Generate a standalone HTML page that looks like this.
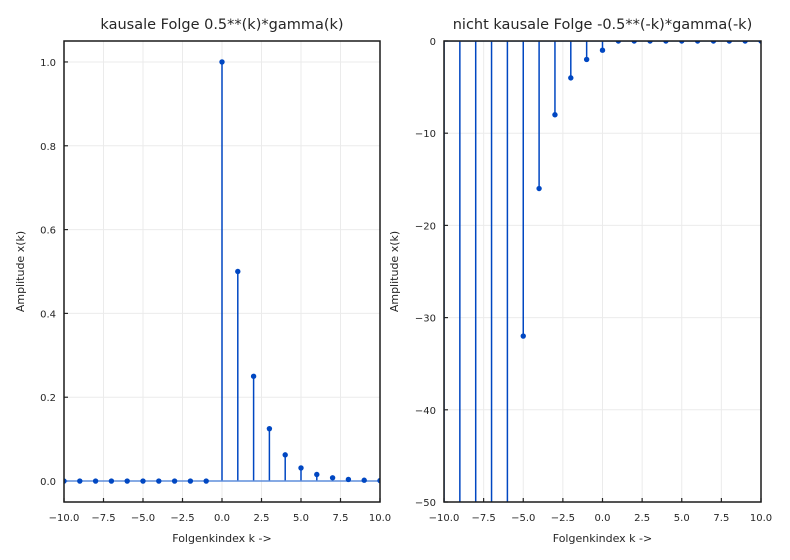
<!DOCTYPE html>
<html><head><meta charset="utf-8"><style>
html,body{margin:0;padding:0;width:790px;height:560px;overflow:hidden;background:#fff;font-family:"DejaVu Sans","Liberation Sans",sans-serif}
svg{display:block}
svg text{fill:#262626}
</style></head><body>
<svg id="s" width="790" height="560" xmlns="http://www.w3.org/2000/svg"></svg>
<script>
const kValues=[-10,-9,-8,-7,-6,-5,-4,-3,-2,-1,0,1,2,3,4,5,6,7,8,9,10];
const causalValues=[0,0,0,0,0,0,0,0,0,0,1,0.5,0.25,0.125,0.0625,0.03125,0.015625,0.0078125,0.00390625,0.001953125,0.0009765625];
const nonCausalValues=[-1024,-512,-256,-128,-64,-32,-16,-8,-4,-2,-1,0,0,0,0,0,0,0,0,0,0];
const xTicks=[-10,-7.5,-5,-2.5,0,2.5,5,7.5,10];
const xTickLabels=["\u221210.0","\u22127.5","\u22125.0","\u22122.5","0.0","2.5","5.0","7.5","10.0"];
const leftYTicks=[0,0.2,0.4,0.6,0.8,1.0];
const leftYTickLabels=["0.0","0.2","0.4","0.6","0.8","1.0"];
const rightYTicks=[-50,-40,-30,-20,-10,0];
const rightYTickLabels=["\u221250","\u221240","\u221230","\u221220","\u221210","0"];
const NS="http://www.w3.org/2000/svg",S=document.getElementById('s');
function mk(t,a,p){const e=document.createElementNS(NS,t);for(const k in a)e.setAttribute(k,a[k]);(p||S).appendChild(e);return e;}
function panel(cfg){
  const g=mk('g',{});
  
  
  const {x0,x1,y0,y1,ymin,ymax}=cfg;
  const X=v=>x0+(v+10)/20*(x1-x0);
  const Y=v=>y1-(v-ymin)/(ymax-ymin)*(y1-y0);
  const clip='c'+cfg.name;
  const cp=mk('clipPath',{id:clip},g);mk('rect',{x:x0,y:y0,width:x1-x0,height:y1-y0},cp);
  xTicks.forEach((t,i)=>{
    const gl=mk('line',{x1:X(t),x2:X(t),y1:y0,y2:y1,stroke:'#ebebeb','stroke-width':1},g);
    
    mk('line',{x1:X(t),x2:X(t),y1:y1,y2:y1-4,stroke:'#262626','stroke-width':1.2},g);
    const tx=mk('text',{x:X(t),y:y1+19,'text-anchor':'middle','font-size':10},g);tx.textContent=xTickLabels[i];
    
  });
  cfg.yt.forEach((t,i)=>{
    const gl=mk('line',{x1:x0,x2:x1,y1:Y(t),y2:Y(t),stroke:'#ebebeb','stroke-width':1},g);
    
    mk('line',{x1:x0,x2:x0+4,y1:Y(t),y2:Y(t),stroke:'#262626','stroke-width':1.2},g);
    const tx=mk('text',{x:x0-8,y:Y(t)+4,'text-anchor':'end','font-size':10},g);tx.textContent=cfg.ytl[i];
    
  });
  const inner=mk('g',{'clip-path':'url(#'+clip+')'},g);
  cfg.vals.forEach((v,i)=>{
    const st=mk('line',{x1:X(kValues[i]),x2:X(kValues[i]),y1:Y(0),y2:Y(v),stroke:'#0047c2','stroke-width':1.5},inner);
    
  });
  const bl=mk('line',{x1:X(kValues[0]),x2:X(kValues[kValues.length-1]),y1:Y(0),y2:Y(0),stroke:'#5f8ddb','stroke-width':1.5},inner);
  
  cfg.vals.forEach((v,i)=>{
    const c=mk('circle',{cx:X(kValues[i]),cy:Y(v),r:2.7,fill:'#0047c2'},inner);
    
  });
  const fr=mk('rect',{x:x0,y:y0,width:x1-x0,height:y1-y0,fill:'none',stroke:'#1a1a1a','stroke-width':1.5},g);
  
  const ti=mk('text',{x:(x0+x1)/2,y:y0-12,'text-anchor':'middle','font-size':14.5},g);ti.textContent=cfg.title;
  
  const xl=mk('text',{x:(x0+x1)/2,y:y1+40,'text-anchor':'middle','font-size':11},g);xl.textContent='Folgenkindex k ->';
  
  const yl=mk('text',{x:0,y:0,'text-anchor':'middle','font-size':11,transform:`translate(${cfg.ylx},${(y0+y1)/2}) rotate(-90)`},g);yl.textContent='Amplitude x(k)';
  
}
panel({name:'causal-panel',x0:64,x1:380,y0:41,y1:502,ymin:-0.05,ymax:1.05,vals:causalValues,yt:leftYTicks,ytl:leftYTickLabels,title:'kausale Folge 0.5**(k)*gamma(k)',ylx:24});
panel({name:'noncausal-panel',x0:444,x1:761,y0:41,y1:502,ymin:-50,ymax:0,vals:nonCausalValues,yt:rightYTicks,ytl:rightYTickLabels,title:'nicht kausale Folge -0.5**(-k)*gamma(-k)',ylx:398});
</script>
</body></html>
